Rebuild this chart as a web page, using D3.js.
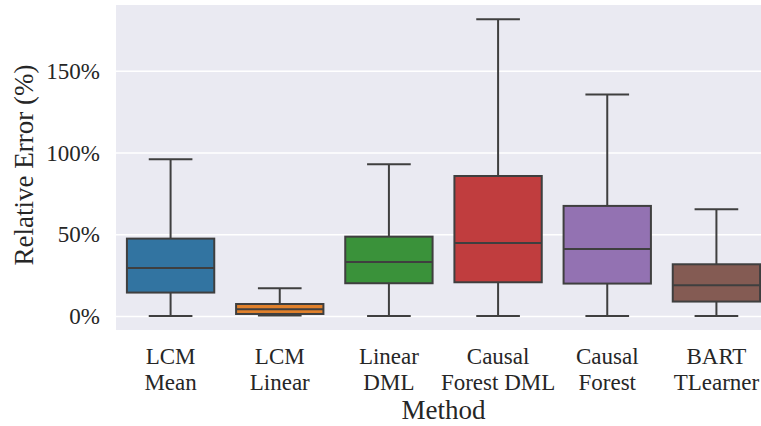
<!DOCTYPE html>
<html>
<head>
<meta charset="utf-8">
<script src="https://cdn.jsdelivr.net/npm/d3@7"></script>
<style>
  body { margin: 0; background: #fff; }
  svg text { font-family: "Liberation Serif", serif; fill: #262626; }
</style>
</head>
<body>
<div class="chart"></div>
<script>
// box stats, in percent
let methods = ["LCM\nMean", "LCM\nLinear", "Linear\nDML", "Causal\nForest DML", "Causal\nForest", "BART\nTLearner"]
let whiskerLow = [0, 0.2, 0, 0, 0, 0]
let q1 = [14.3, 1.2, 20, 20.6, 19.8, 8.8]
let medians = [29.4, 4.1, 33, 44.6, 41, 18.8]
let q3 = [47.3, 7.3, 48.5, 85.6, 67.3, 31.6]
let whiskerHigh = [95.8, 16.9, 92.8, 181.5, 135.4, 65.3]
let colors = ["#3274a1", "#e1812c", "#3a923a", "#c03d3e", "#9372b2", "#845b53"]
let yTicks = [0, 50, 100, 150]

let width = 761, height = 426
let plotLeft = 116, plotRight = 771, plotTop = 5, plotBottom = 330
let serif = "'Liberation Serif', serif"

let boxes = methods.map((m, i) => ({
  name: m, lo: whiskerLow[i], q1: q1[i], med: medians[i], q3: q3[i], hi: whiskerHigh[i], color: colors[i]
}))

let svg = d3.select(".chart")
  .append("svg")
  .attr("width", width)
  .attr("height", height)

let x = d3.scaleBand().domain(methods).range([plotLeft, plotRight]).padding(0)
let y = d3.scaleLinear().domain([-8.6, 190.2]).range([plotBottom, plotTop])

svg.append("rect")
  .attr("x", plotLeft).attr("y", plotTop)
  .attr("width", plotRight - plotLeft).attr("height", plotBottom - plotTop)
  .attr("fill", "#eaeaf2")

// grid
svg.append("g")
  .attr("transform", `translate(${plotLeft},0)`)
  .call(d3.axisLeft(y).tickValues(yTicks).tickSize(-(plotRight - plotLeft)).tickFormat(""))
  .call(g => g.select(".domain").remove())
  .call(g => g.selectAll("line").attr("stroke", "#fff").attr("stroke-width", 1.6))

// y axis labels
svg.append("g")
  .attr("transform", `translate(${plotLeft},0)`)
  .call(d3.axisLeft(y).tickValues(yTicks).tickSize(0).tickPadding(16).tickFormat(d => d + "%"))
  .call(g => g.select(".domain").remove())
  .call(g => g.attr("font-family", null).attr("font-size", null))
  .call(g => g.selectAll("text")
    .style("font-family", serif)
    .style("font-size", "23px")
    .attr("fill", "#262626")
    .attr("dy", "0.33em"))

// x axis labels, two lines each
let xAxis = svg.append("g")
  .attr("transform", `translate(0,${plotBottom})`)
  .call(d3.axisBottom(x).tickSize(0))
  .attr("font-family", null).attr("font-size", null)
xAxis.select(".domain").remove()
xAxis.selectAll("text")
  .style("font-family", serif)
  .style("font-size", "23px")
  .attr("fill", "#262626")
  .attr("y", 0).attr("dy", null)
  .text(null)
  .each(function (d) {
    let lines = d.split("\n")
    d3.select(this).selectAll("tspan")
      .data(lines)
      .enter()
      .append("tspan")
      .attr("x", 0)
      .attr("y", (l, i) => 34 + i * 25.5)
      .text(l => l)
  })

let lineColor = "#3f3f3f"
let bw = x.bandwidth() * 0.8

let g = svg.selectAll(".box")
  .data(boxes)
  .enter()
  .append("g")
  .attr("class", "box")
  .attr("transform", d => `translate(${x(d.name) + x.bandwidth() / 2},0)`)

g.append("line")
  .attr("y1", d => y(d.q3)).attr("y2", d => y(d.hi))
  .attr("stroke", lineColor).attr("stroke-width", 2)
g.append("line")
  .attr("y1", d => y(d.q1)).attr("y2", d => y(d.lo))
  .attr("stroke", lineColor).attr("stroke-width", 2)
g.append("line")
  .attr("x1", -bw / 4).attr("x2", bw / 4)
  .attr("y1", d => y(d.hi)).attr("y2", d => y(d.hi))
  .attr("stroke", lineColor).attr("stroke-width", 2)
g.append("line")
  .attr("x1", -bw / 4).attr("x2", bw / 4)
  .attr("y1", d => y(d.lo)).attr("y2", d => y(d.lo))
  .attr("stroke", lineColor).attr("stroke-width", 2)
g.append("rect")
  .attr("x", -bw / 2).attr("width", bw)
  .attr("y", d => y(d.q3)).attr("height", d => y(d.q1) - y(d.q3))
  .attr("fill", d => d.color)
  .attr("stroke", lineColor).attr("stroke-width", 2)
g.append("line")
  .attr("x1", -bw / 2).attr("x2", bw / 2)
  .attr("y1", d => y(d.med)).attr("y2", d => y(d.med))
  .attr("stroke", lineColor).attr("stroke-width", 2)

svg.append("text")
  .attr("x", (plotLeft + plotRight) / 2)
  .attr("y", 419)
  .attr("text-anchor", "middle")
  .style("font-size", "27px")
  .text("Method")

svg.append("text")
  .attr("transform", "translate(33,165) rotate(-90)")
  .attr("text-anchor", "middle")
  .style("font-size", "27px")
  .text("Relative Error (%)")
</script>
</body>
</html>
